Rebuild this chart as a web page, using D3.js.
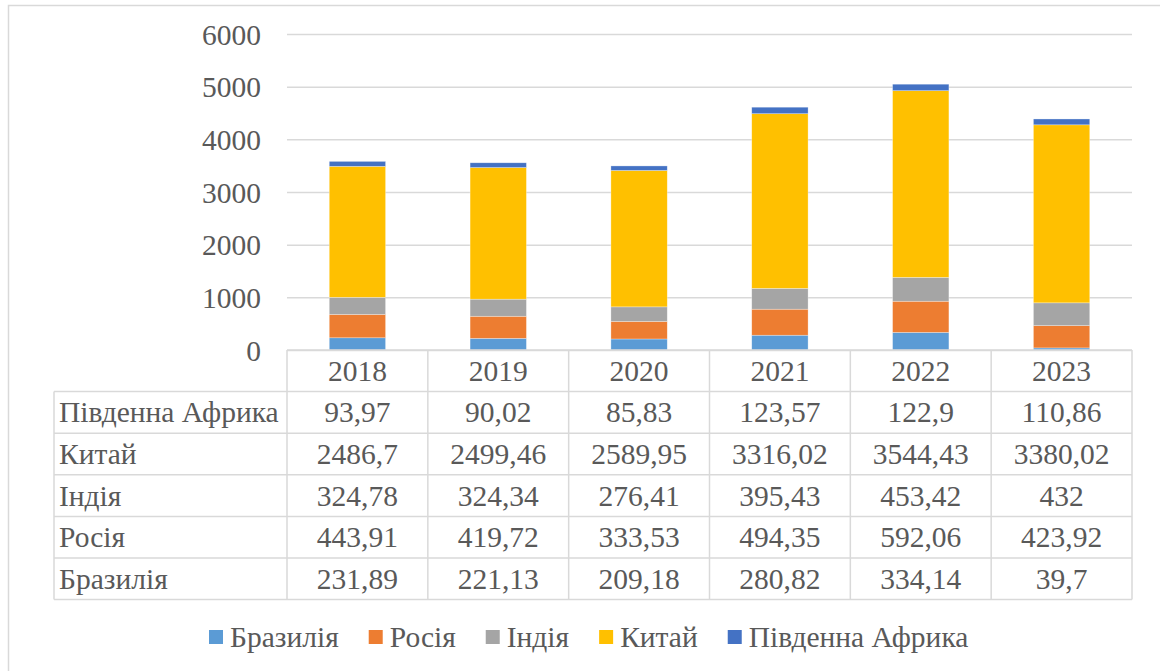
<!DOCTYPE html>
<html>
<head>
<meta charset="utf-8">
<script src="https://cdn.jsdelivr.net/npm/d3@7"></script>
<style>
  body { margin: 0; background: #fff; }
</style>
</head>
<body>
<div id="chart"></div>
<script>
// chart data
let years = ["2018", "2019", "2020", "2021", "2022", "2023"]
let seriesNames = ["Бразилія", "Росія", "Індія", "Китай", "Південна Африка"]
let brazil = [231.89, 221.13, 209.18, 280.82, 334.14, 39.7]
let russia = [443.91, 419.72, 333.53, 494.35, 592.06, 423.92]
let india = [324.78, 324.34, 276.41, 395.43, 453.42, 432]
let china = [2486.7, 2499.46, 2589.95, 3316.02, 3544.43, 3380.02]
let southAfrica = [93.97, 90.02, 85.83, 123.57, 122.9, 110.86]
let yTicks = [0, 1000, 2000, 3000, 4000, 5000, 6000]
let colors = ["#5B9BD5", "#ED7D31", "#A5A5A5", "#FFC000", "#4472C4"]

let seriesValues = [brazil, russia, india, china, southAfrica]

var W = 1160, H = 671
var plot = { left: 287, right: 1132, top: 34, bottom: 350 }
var rowH = 41.6
var tableLeft = 54
var fontSize = 29.5
var font = "Liberation Serif"
var textColor = "#595959"
var lineColor = "#d9d9d9"

let svg = d3.select("#chart")
    .append("svg")
    .attr("width", W)
    .attr("height", H)
    .attr("font-family", font)

// outer frame
svg.append("rect")
    .attr("x", 8.5).attr("y", 5.5)
    .attr("width", W + 20).attr("height", H + 20)
    .attr("fill", "none")
    .attr("stroke", lineColor)
    .attr("stroke-width", 1.5)

// rows for the stack
let rows = years.map((yr, i) => {
    let r = { year: yr }
    seriesNames.forEach((s, k) => r[s] = seriesValues[k][i])
    return r
})

let x = d3.scaleBand()
    .domain(years)
    .range([plot.left, plot.right])

let y = d3.scaleLinear()
    .domain([0, 6000])
    .range([plot.bottom, plot.top])

// gridlines + labels
let yAxis = d3.axisLeft(y)
    .tickValues(yTicks)
    .tickSize(-(plot.right - plot.left))
    .tickPadding(26)
    .tickFormat(d3.format("d"))

let gy = svg.append("g")
    .attr("transform", "translate(" + plot.left + ",0)")
    .call(yAxis)
    .attr("font-family", font)
    .attr("font-size", fontSize)
gy.select(".domain").remove()
gy.selectAll(".tick line")
    .attr("stroke", lineColor)
    .attr("stroke-width", 1.5)
gy.selectAll(".tick text")
    .attr("fill", textColor)
    .attr("dy", "0.34em")

// stacked bars
let stacked = d3.stack().keys(seriesNames)(rows)
let barW = x.bandwidth() * 0.4

svg.append("g")
    .selectAll("g")
    .data(stacked)
    .enter()
    .append("g")
    .attr("fill", (d, i) => colors[i])
    .selectAll("rect")
    .data(d => d)
    .enter()
    .append("rect")
    .attr("x", d => x(d.data.year) + (x.bandwidth() - barW) / 2)
    .attr("y", d => y(d[1]))
    .attr("width", barW)
    .attr("height", d => y(d[0]) - y(d[1]))
    .attr("stroke", "#fff")
    .attr("stroke-opacity", 0.5)
    .attr("stroke-width", 0.6)

// data table
let table = svg.append("g")
    .attr("font-family", font)
    .attr("font-size", fontSize)
    .attr("fill", textColor)
let tableRows = seriesNames.slice().reverse()
let tableValues = seriesValues.slice().reverse()
let fmt = v => String(v).replace(".", ",")
let tableBottom = plot.bottom + rowH * (tableRows.length + 1)

// header row (years)
years.forEach(yr => {
    table.append("text")
        .attr("x", x(yr) + x.bandwidth() / 2)
        .attr("y", plot.bottom + rowH / 2)
        .attr("dy", "0.34em")
        .attr("text-anchor", "middle")
        .text(yr)
})

tableRows.forEach((name, r) => {
    let cy = plot.bottom + rowH * (r + 1) + rowH / 2
    table.append("text")
        .attr("x", tableLeft + 5)
        .attr("y", cy)
        .attr("dy", "0.34em")
        .text(name)
    years.forEach((yr, i) => {
        table.append("text")
            .attr("x", x(yr) + x.bandwidth() / 2)
            .attr("y", cy)
            .attr("dy", "0.34em")
            .attr("text-anchor", "middle")
            .text(fmt(tableValues[r][i]))
    })
})

// horizontal table lines
for (let r = 0; r <= tableRows.length + 1; r++) {
    let ly = plot.bottom + rowH * r
    table.append("line")
        .attr("x1", r === 0 ? plot.left : tableLeft)
        .attr("x2", plot.right)
        .attr("y1", ly).attr("y2", ly)
        .attr("stroke", lineColor)
        .attr("stroke-width", 1.5)
}
// vertical table lines
table.append("line")
    .attr("x1", tableLeft).attr("x2", tableLeft)
    .attr("y1", plot.bottom + rowH).attr("y2", tableBottom)
    .attr("stroke", lineColor).attr("stroke-width", 1.5)
years.concat(["end"]).forEach((yr, i) => {
    let lx = i < years.length ? x(yr) : plot.right
    table.append("line")
        .attr("x1", lx).attr("x2", lx)
        .attr("y1", plot.bottom).attr("y2", tableBottom)
        .attr("stroke", lineColor).attr("stroke-width", 1.5)
})

// legend
let legend = svg.append("g")
    .attr("font-family", font)
    .attr("font-size", fontSize)
    .attr("fill", textColor)
let lx = 209
seriesNames.forEach((name, i) => {
    legend.append("rect")
        .attr("x", lx).attr("y", 630)
        .attr("width", 14).attr("height", 14)
        .attr("fill", colors[i])
    let t = legend.append("text")
        .attr("x", lx + 21)
        .attr("y", 637)
        .attr("dy", "0.34em")
        .text(name)
    lx += 21 + t.node().getComputedTextLength() + 30
})
</script>
</body>
</html>
